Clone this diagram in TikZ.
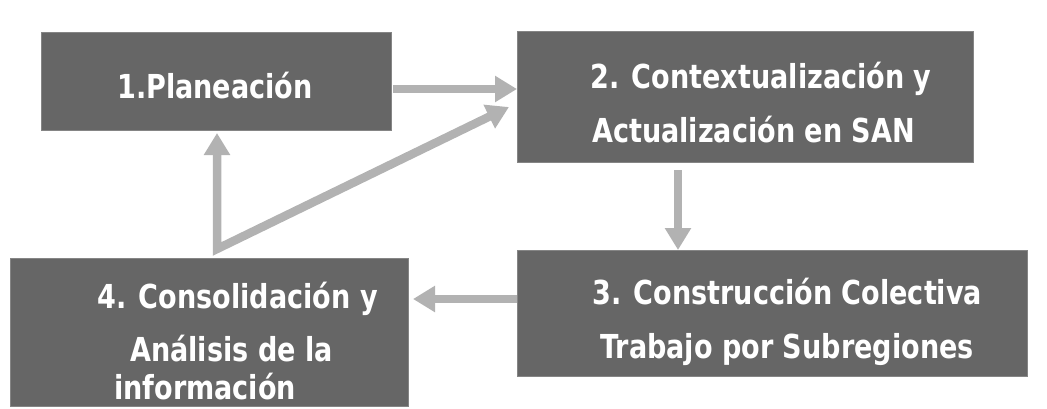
\documentclass[tikz,border=0pt]{standalone}
\usepackage{fontspec}
\newfontfamily\boxfont{DejaVu Sans}[FakeStretch=0.82]
\usetikzlibrary{arrows.meta}
\definecolor{boxgray}{RGB}{102,102,102}
\definecolor{arrgray}{RGB}{178,178,178}
\tikzset{
  box/.style={fill=boxgray, draw=boxgray!80!white, line width=0.8pt, inner sep=0pt},
  lbl/.style={anchor=base west, inner sep=0pt, text=white, font=\boxfont\bfseries\fontsize{33}{40}\selectfont},
  arr/.style={draw=arrgray, line width=8.5pt, -{Triangle[width=25pt,length=22pt]}},
  arrboth/.style={draw=arrgray, line width=8.5pt, {Triangle[width=25pt,length=22pt]}-{Triangle[width=25pt,length=22pt]}, line join=miter}
}
\begin{document}
\begin{tikzpicture}[x=1pt,y=-1pt]
\useasboundingbox (0,0) rectangle (1047,408);
% boxes
\path[box] (41,32) rectangle (391,130) node[pos=0.5, inner sep=0pt] (b1) {};
\path[box] (517,31) rectangle (973,162) node[pos=0.5, inner sep=0pt] (b2) {};
\path[box] (517,250) rectangle (1027,376) node[pos=0.5, inner sep=0pt] (b3) {};
\path[box] (10,258) rectangle (408,406) node[pos=0.5, inner sep=0pt] (b4) {};
% labels
\node[lbl] (t1) at (117,98) {1.Planeación};
\node[lbl] (t2a) at (590,88) {2. Contextualización y};
\node[lbl] (t2b) at (592,142) {Actualización en SAN};
\node[lbl] (t3a) at (592,304) {3. Construcción Colectiva};
\node[lbl] (t3b) at (600,358) {Trabajo por Subregiones};
\node[lbl] (t4a) at (97,308) {4. Consolidación y};
\node[lbl] (t4b) at (130,361) {Análisis de la};
\node[lbl] (t4c) at (114,399) {información};
% arrow end points
\coordinate (a1s) at (393,89);
\coordinate (a1e) at (517,89);
\coordinate (a2s) at (678,170);
\coordinate (a2e) at (678,250);
\coordinate (a3s) at (517,299);
\coordinate (a3e) at (413,299);
\coordinate (up) at (217,133);
\coordinate (corner) at (217,249);
\coordinate (diag) at (509,107);
% arrows
\draw[arr] (a1s) -- (a1e);
\draw[arr] (a2s) -- (a2e);
\draw[arr] (a3s) -- (a3e);
\draw[arrboth] (up) -- (corner) -- (diag);
\end{tikzpicture}
\end{document}
